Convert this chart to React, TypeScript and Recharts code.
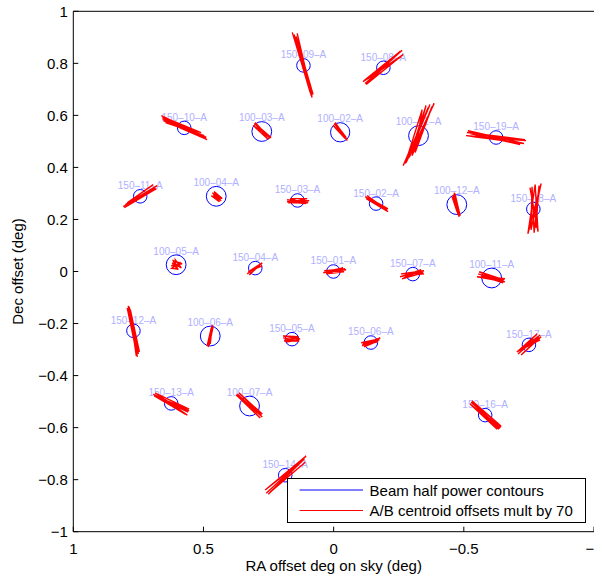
import React from 'react';
import { ScatterChart, Scatter, XAxis, YAxis, Legend } from 'recharts';

// ---------- data ----------
const xTicks = [1, 0.5, 0, -0.5, -1];
const yTicks = [-1, -0.8, -0.6, -0.4, -0.2, 0, 0.2, 0.4, 0.6, 0.8, 1];

const beamNames = [
  '150–09–A', '150–10–A', '100–03–A', '150–08–A', '100–02–A', '100–01–A', '150–19–A',
  '150–11–A', '100–04–A', '150–03–A', '100–05–A', '150–04–A', '150–01–A', '150–07–A',
  '100–11–A', '150–02–A', '100–12–A', '150–18–A', '150–12–A', '100–06–A', '150–05–A',
  '150–13–A', '100–07–A', '150–06–A', '150–17–A', '150–16–A', '150–14–A',
];
const beamRA = [
  0.116, 0.574, 0.276, -0.191, -0.025, -0.326, -0.624,
  0.743, 0.451, 0.139, 0.605, 0.301, 0.001, -0.304,
  -0.607, -0.163, -0.473, -0.767, 0.769, 0.474, 0.16,
  0.624, 0.323, -0.143, -0.75, -0.582, 0.186,
];
const beamDec = [
  0.792, 0.552, 0.538, 0.783, 0.535, 0.522, 0.515,
  0.289, 0.289, 0.273, 0.026, 0.013, 0.0, -0.01,
  -0.025, 0.261, 0.257, 0.24, -0.228, -0.248, -0.26,
  -0.507, -0.517, -0.273, -0.282, -0.552, -0.783,
];
const beamRadius = [
  0.026, 0.026, 0.038, 0.026, 0.037, 0.038, 0.026,
  0.026, 0.038, 0.026, 0.038, 0.026, 0.026, 0.026,
  0.038, 0.026, 0.038, 0.026, 0.026, 0.038, 0.026,
  0.026, 0.038, 0.026, 0.026, 0.026, 0.026,
];

// A/B centroid offsets (x70), one bundle of segments [x1, y1, x2, y2] per beam
const offsetSegments: number[][][] = [
  [[0.159, 0.919, 0.083, 0.669], [0.152, 0.911, 0.086, 0.676], [0.144, 0.903, 0.079, 0.68], [0.155, 0.907, 0.09, 0.688], [0.14, 0.915, 0.083, 0.672]],
  [[0.662, 0.599, 0.489, 0.515], [0.658, 0.588, 0.486, 0.507], [0.654, 0.58, 0.497, 0.522], [0.646, 0.572, 0.509, 0.534], [0.658, 0.595, 0.493, 0.511]],
  [[0.305, 0.569, 0.244, 0.511], [0.301, 0.572, 0.251, 0.507], [0.309, 0.561, 0.24, 0.515], [0.298, 0.565, 0.247, 0.519]],
  [[-0.121, 0.722, -0.263, 0.85], [-0.117, 0.734, -0.256, 0.846], [-0.125, 0.719, -0.267, 0.834], [-0.133, 0.742, -0.248, 0.838], [-0.113, 0.73, -0.259, 0.826]],
  [[-0.002, 0.569, -0.052, 0.507], [-0.006, 0.572, -0.044, 0.511], [0.002, 0.561, -0.048, 0.515], [-0.01, 0.565, -0.052, 0.503]],
  [[-0.267, 0.407, -0.37, 0.642], [-0.278, 0.418, -0.386, 0.646], [-0.29, 0.438, -0.355, 0.638], [-0.301, 0.445, -0.378, 0.634], [-0.313, 0.457, -0.34, 0.622], [-0.275, 0.415, -0.363, 0.63]],
  [[-0.512, 0.534, -0.735, 0.507], [-0.509, 0.522, -0.731, 0.492], [-0.516, 0.541, -0.716, 0.488], [-0.524, 0.53, -0.739, 0.503], [-0.532, 0.519, -0.708, 0.496]],
  [[0.808, 0.249, 0.678, 0.33], [0.8, 0.257, 0.685, 0.322], [0.804, 0.245, 0.681, 0.318], [0.793, 0.264, 0.693, 0.334]],
  [[0.466, 0.303, 0.432, 0.272], [0.463, 0.295, 0.428, 0.28], [0.459, 0.307, 0.439, 0.268], [0.47, 0.291, 0.436, 0.276], [0.455, 0.3, 0.44, 0.275]],
  [[0.179, 0.276, 0.098, 0.264], [0.175, 0.264, 0.102, 0.28], [0.167, 0.28, 0.106, 0.261], [0.179, 0.268, 0.094, 0.272], [0.172, 0.272, 0.1, 0.268]],
  [[0.624, 0.022, 0.582, 0.03], [0.616, 0.041, 0.597, 0.007], [0.62, 0.033, 0.585, 0.014], [0.608, 0.045, 0.605, 0.01], [0.622, 0.012, 0.588, 0.036]],
  [[0.332, -0.009, 0.274, 0.033], [0.328, -0.001, 0.278, 0.03], [0.324, -0.013, 0.282, 0.026], [0.321, 0.003, 0.274, 0.022]],
  [[0.04, -0.005, -0.044, 0.01], [0.036, 0.003, -0.04, -0.001], [0.029, -0.009, -0.036, 0.014], [0.033, -0.001, -0.048, 0.007]],
  [[-0.255, -0.02, -0.347, 0.003], [-0.259, -0.009, -0.344, -0.005], [-0.263, -0.028, -0.336, 0.007], [-0.271, -0.017, -0.347, -0.009]],
  [[-0.555, -0.009, -0.658, -0.04], [-0.551, -0.02, -0.655, -0.032], [-0.559, -0.001, -0.651, -0.044], [-0.567, -0.017, -0.658, -0.028]],
  [[-0.121, 0.288, -0.209, 0.23], [-0.125, 0.28, -0.205, 0.237], [-0.129, 0.291, -0.202, 0.234], [-0.133, 0.284, -0.209, 0.241]],
  [[-0.463, 0.303, -0.482, 0.21], [-0.459, 0.295, -0.478, 0.218], [-0.466, 0.299, -0.486, 0.214], [-0.455, 0.287, -0.474, 0.23]],
  [[-0.754, 0.322, -0.785, 0.153], [-0.774, 0.334, -0.746, 0.145], [-0.797, 0.338, -0.758, 0.16], [-0.762, 0.326, -0.77, 0.149], [-0.789, 0.33, -0.777, 0.168]],
  [[0.789, -0.132, 0.754, -0.328], [0.793, -0.14, 0.75, -0.317], [0.785, -0.136, 0.758, -0.324], [0.781, -0.147, 0.746, -0.309]],
  [[0.466, -0.209, 0.482, -0.29], [0.463, -0.213, 0.478, -0.282], [0.47, -0.217, 0.486, -0.286], [0.466, -0.205, 0.474, -0.278]],
  [[0.194, -0.255, 0.132, -0.267], [0.19, -0.267, 0.136, -0.251], [0.194, -0.248, 0.129, -0.259], [0.182, -0.271, 0.136, -0.263], [0.188, -0.26, 0.134, -0.256]],
  [[0.693, -0.471, 0.559, -0.54], [0.689, -0.478, 0.562, -0.552], [0.685, -0.467, 0.555, -0.529], [0.681, -0.482, 0.57, -0.548], [0.689, -0.475, 0.555, -0.536]],
  [[0.37, -0.471, 0.274, -0.559], [0.367, -0.478, 0.282, -0.563], [0.374, -0.475, 0.278, -0.552], [0.363, -0.467, 0.274, -0.548]],
  [[-0.109, -0.286, -0.175, -0.259], [-0.106, -0.274, -0.171, -0.267], [-0.117, -0.29, -0.179, -0.255], [-0.113, -0.278, -0.167, -0.271], [-0.11, -0.282, -0.176, -0.263]],
  [[-0.708, -0.317, -0.793, -0.244], [-0.712, -0.305, -0.789, -0.255], [-0.72, -0.321, -0.797, -0.251], [-0.704, -0.309, -0.781, -0.24], [-0.724, -0.298, -0.793, -0.263]],
  [[-0.528, -0.502, -0.639, -0.602], [-0.524, -0.509, -0.635, -0.606], [-0.532, -0.498, -0.643, -0.594], [-0.536, -0.505, -0.628, -0.606], [-0.528, -0.513, -0.643, -0.598]],
  [[0.259, -0.852, 0.109, -0.713], [0.263, -0.84, 0.113, -0.721], [0.251, -0.856, 0.106, -0.709], [0.255, -0.833, 0.121, -0.725], [0.244, -0.848, 0.109, -0.733]],
];

const legendLabels = ['Beam half power contours', 'A/B centroid offsets mult by 70'];
const xTitle = 'RA offset deg on sky (deg)';
const yTitle = 'Dec offset (deg)';

// ---------- layout ----------
const FONT = '"Liberation Sans", Arial, Helvetica, sans-serif';
const W = 594;
const H = 581;
const AX_LEFT = 73.3;
const AX_TOP = 11.3;
const AX_BOTTOM = 49.3;
const PLOT_W = W - AX_LEFT;
const PLOT_H = H - AX_TOP - AX_BOTTOM;
const PX_X = PLOT_W / 2;
const PX_Y = PLOT_H / 2;
const BLUE = '#0000ff';
const RED = '#ff0000';
const LABEL_COLOR = '#b0b0ff';

const beams = beamNames.map((name, i) => ({ name, x: beamRA[i], y: beamDec[i], r: beamRadius[i] }));
const bundles = offsetSegments.map((segs) =>
  segs.flatMap((s) => [{ x: s[0], y: s[1] }, { x: s[2], y: s[3] }])
);

const fmt = (v: number) => String(v).replace('-', '\u2212');

const CircleShape = (props: any) => {
  const { cx, cy, payload } = props;
  if (cx == null || cy == null) return <g />;
  return (
    <ellipse cx={cx} cy={cy} rx={payload.r * PX_X} ry={payload.r * PX_Y} fill="none" stroke={BLUE} strokeWidth={1} />
  );
};

const LabelShape = (props: any) => {
  const { cx, cy, payload } = props;
  if (cx == null || cy == null) return <g />;
  const off = payload.r * PX_Y + 3.8;
  return (
    <text x={cx} y={cy - off} dy="0.35em" textAnchor="middle" fontSize={10} fontFamily={FONT} fill={LABEL_COLOR}>
      {payload.name}
    </text>
  );
};

const NoShape = () => <g />;

const LegendBox = () => (
  <svg width={299} height={45} style={{ display: 'block', overflow: 'visible' }}>
    <rect x={0.5} y={0.5} width={298} height={44} fill="#fff" stroke="#000" strokeWidth={1} />
    <line x1={12.6} x2={76} y1={12} y2={12} stroke={BLUE} strokeWidth={1} />
    <text x={82.6} y={17.5} fontSize={15} fontFamily={FONT} fill="#000">{legendLabels[0]}</text>
    <line x1={12.6} x2={76} y1={32.5} y2={32.5} stroke={RED} strokeWidth={1} />
    <text x={82.6} y={38} fontSize={15} fontFamily={FONT} fill="#000">{legendLabels[1]}</text>
  </svg>
);

const tickStyle = { fill: '#000', fontSize: 15, fontFamily: FONT };

export default function App() {
  return (
    <div style={{ position: 'absolute', left: 0, top: 0, width: W, height: H, background: '#fff' }}>
      <ScatterChart width={W} height={H} margin={{ top: 0, right: 0, bottom: 0, left: 0 }}>
        <XAxis
          type="number"
          dataKey="x"
          domain={[-1, 1]}
          reversed
          allowDataOverflow
          ticks={xTicks}
          interval={0}
          tickFormatter={fmt}
          tickSize={-5}
          tickMargin={16.3}
          height={AX_BOTTOM}
          axisLine={{ stroke: '#000' }}
          tickLine={{ stroke: '#000' }}
          tick={tickStyle}
          label={{
            content: () => (
              <text x={AX_LEFT + PLOT_W / 2} y={571} textAnchor="middle" fontSize={15} fontFamily={FONT} fill="#000">
                {xTitle}
              </text>
            ),
          }}
        />
        <XAxis
          xAxisId="top"
          orientation="top"
          type="number"
          dataKey="x"
          domain={[-1, 1]}
          reversed
          allowDataOverflow
          ticks={xTicks}
          interval={0}
          tickSize={-5}
          height={AX_TOP}
          axisLine={{ stroke: '#000' }}
          tickLine={{ stroke: '#000' }}
          tick={false}
        />
        <YAxis
          type="number"
          dataKey="y"
          domain={[-1, 1]}
          allowDataOverflow
          ticks={yTicks}
          interval={0}
          tickFormatter={fmt}
          tickSize={-5}
          tickMargin={10.5}
          width={AX_LEFT}
          axisLine={{ stroke: '#000' }}
          tickLine={{ stroke: '#000' }}
          tick={tickStyle}
          label={{
            content: () => (
              <text
                x={23}
                y={AX_TOP + PLOT_H / 2}
                transform={`rotate(-90 23 ${AX_TOP + PLOT_H / 2})`}
                textAnchor="middle"
                fontSize={15}
                fontFamily={FONT}
                fill="#000"
              >
                {yTitle}
              </text>
            ),
          }}
        />
        <YAxis
          yAxisId="right"
          orientation="right"
          type="number"
          dataKey="y"
          domain={[-1, 1]}
          allowDataOverflow
          ticks={yTicks}
          interval={0}
          tickSize={-5}
          width={0}
          axisLine={false}
          tickLine={{ stroke: '#000' }}
          tick={false}
        />
        <Scatter data={beams} shape={LabelShape} isAnimationActive={false} legendType="none" />
        <Scatter data={beams} shape={CircleShape} isAnimationActive={false} legendType="none" />
        {bundles.map((pts, i) => (
          <Scatter
            key={i}
            data={pts}
            shape={NoShape}
            line={{ stroke: RED, strokeWidth: 1.4 }}
            isAnimationActive={false}
            legendType="none"
          />
        ))}
        <Legend
          layout="horizontal"
          verticalAlign="middle"
          align="center"
          content={() => <LegendBox />}
          wrapperStyle={{ left: 286.7, top: 477.5, width: 299, height: 45 }}
        />
      </ScatterChart>
    </div>
  );
}
